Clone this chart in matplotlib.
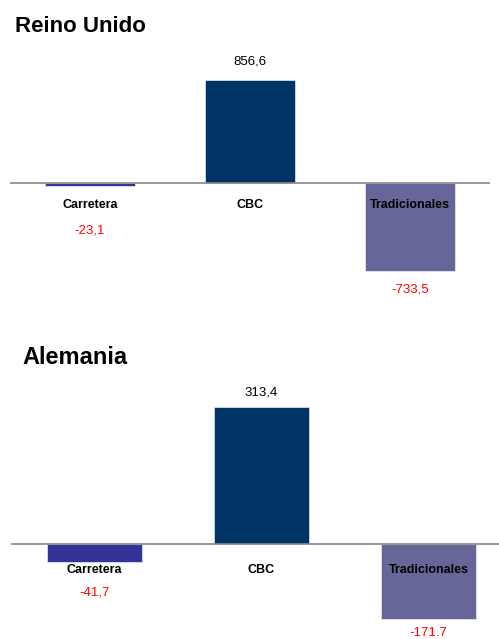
import matplotlib.pyplot as plt

plt.rcParams['font.family'] = ['Liberation Sans', 'DejaVu Sans']

categories = ['Carretera', 'CBC', 'Tradicionales']
colors = ['#333399', '#003366', '#666699']

uk_values = [-23.1, 856.6, -733.5]
uk_labels = ['-23,1', '856,6', '-733,5']

de_values = [-41.7, 313.4, -171.7]
de_labels = ['-41,7', '313,4', '-171.7']

W, H = 499, 639
fig = plt.figure(figsize=(W / 100, H / 100), dpi=100)


def px_axes(left, top, right, bottom):
    # axes placed in pixel coordinates (from top-left)
    return fig.add_axes([left / W, 1 - bottom / H, (right - left) / W, (bottom - top) / H])


def draw_panel(ax, values, labels, title, title_xy, title_size, width,
               label_offsets, cat_offset):
    ax.bar(range(len(values)), values, width=width, color=colors,
           edgecolor='white', linewidth=0.4, zorder=2)
    ax.axhline(0, color='#888888', linewidth=1.2, zorder=3)
    for i, (v, lab, off) in enumerate(zip(values, labels, label_offsets)):
        ax.annotate(lab, (i, v), xytext=(0, off), textcoords='offset points',
                    ha='center', va='center', fontsize=9.5,
                    color='#000000' if v >= 0 else '#ff0000')
        ax.annotate(categories[i], (i, 0), xytext=(0, cat_offset),
                    textcoords='offset points', ha='center', va='center',
                    fontsize=9, fontweight='bold', color='#000000', zorder=4)
    ax.axis('off')
    fig.text(title_xy[0] / W, 1 - title_xy[1] / H, title, fontsize=title_size,
             fontweight='bold', ha='left', va='baseline')


# Reino Unido: baseline at y=183 px, 0.1203 px per unit
ax1 = px_axes(10, 60, 490, 300)
ax1.set_xlim(-0.5, 2.5)
ax1.set_ylim(-(300 - 183) / 0.1203, (183 - 60) / 0.1203)
draw_panel(ax1, uk_values, uk_labels, 'Reino Unido', (15, 32), 16, 0.5625,
           [-32, 13, -13], -16)

# Alemania: baseline at y=544 px, 0.438 px per unit
ax2 = px_axes(11, 380, 499, 639)
ax2.set_xlim(-0.5, -0.5 + 488 / 167)
ax2.set_ylim(-(639 - 544) / 0.438, (544 - 380) / 0.438)
draw_panel(ax2, de_values, de_labels, 'Alemania', (22, 364), 17, 0.57,
           [-22, 10, -10], -19)

fig.savefig('out.png', dpi=100)
